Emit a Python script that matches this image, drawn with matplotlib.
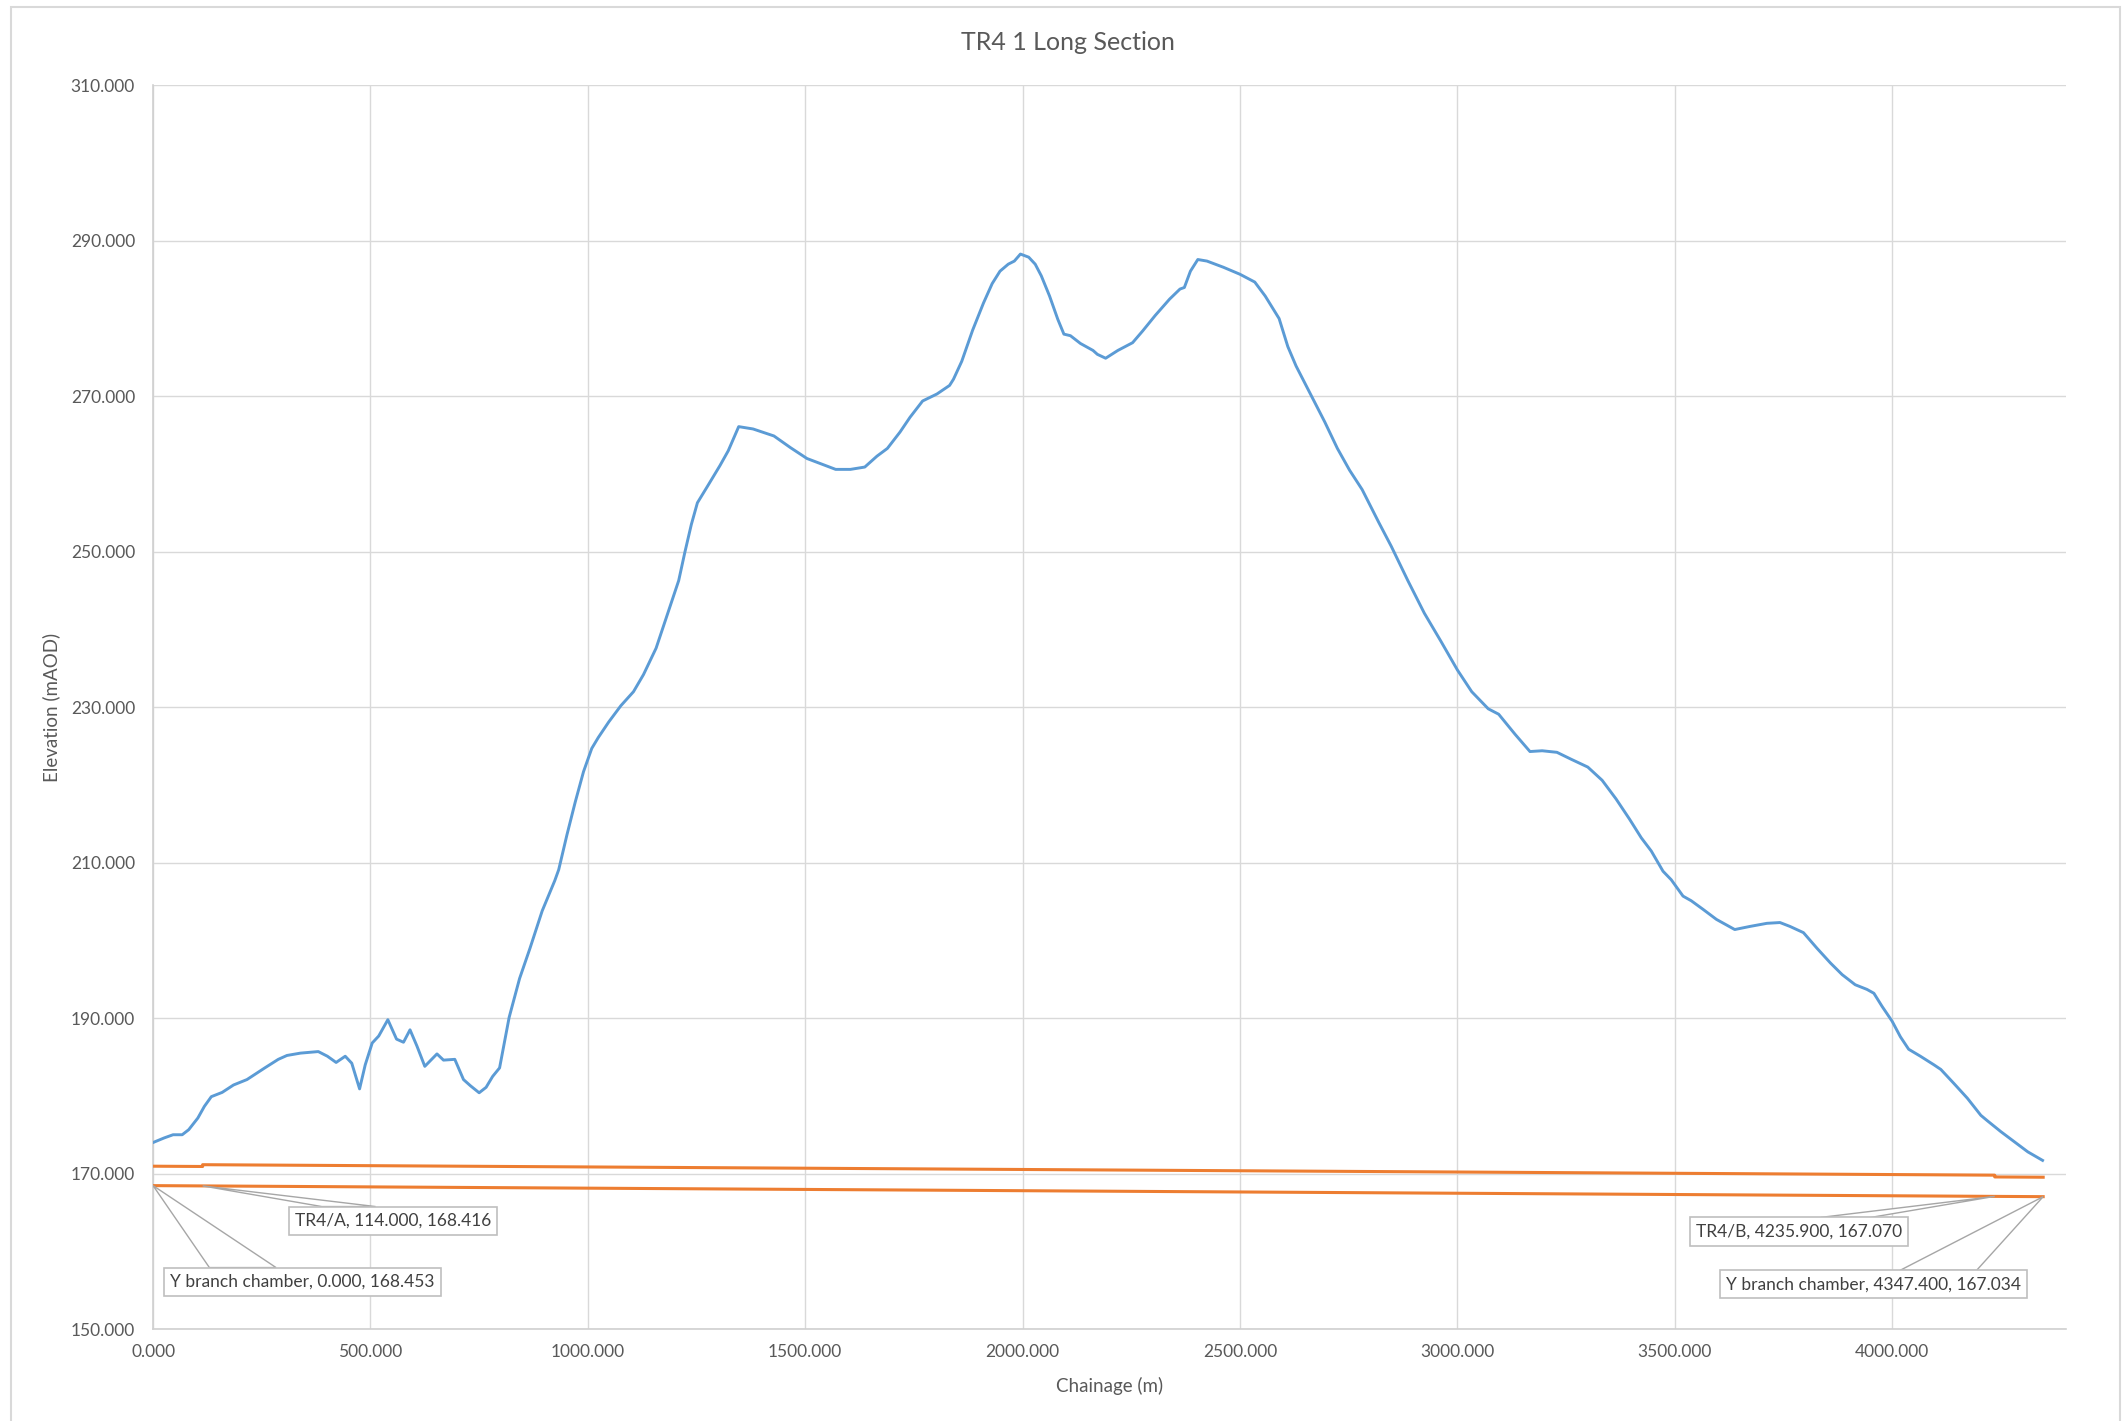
import numpy as np
import matplotlib
matplotlib.use('Agg')
import matplotlib.pyplot as plt
from matplotlib.patches import Rectangle, Polygon

plt.rcParams['font.family'] = ['Lato', 'DejaVu Sans']

# ground profile (chainage m, elevation mAOD)
ground_x = [0, 26, 46, 67, 82, 103, 118, 134, 159, 185, 216, 257, 288, 308, 339, 380,
            401, 421, 442, 457, 475, 488, 504, 519, 540, 560, 576, 591, 607, 625, 653,
            668, 694, 714, 730, 750, 766, 781, 797, 819, 843, 867, 895, 924, 933, 952,
            971, 990, 1009, 1024, 1048, 1076, 1105, 1128, 1157, 1185, 1209, 1223, 1238,
            1252, 1276, 1304, 1323, 1347, 1380, 1428, 1466, 1504, 1542, 1570, 1604, 1637,
            1665, 1689, 1718, 1741, 1770, 1803, 1832, 1841, 1860, 1885, 1910, 1930, 1948,
            1967, 1981, 1995, 2014, 2029, 2043, 2062, 2081, 2095, 2110, 2133, 2162, 2172,
            2191, 2219, 2253, 2276, 2305, 2338, 2362, 2372, 2386, 2403, 2424, 2462, 2500,
            2534, 2558, 2590, 2610, 2629, 2662, 2695, 2724, 2752, 2781, 2819, 2848, 2886,
            2924, 2962, 3000, 3033, 3071, 3095, 3133, 3167, 3195, 3229, 3262, 3300, 3333,
            3365, 3396, 3423, 3446, 3473, 3492, 3519, 3538, 3565, 3596, 3638, 3673, 3712,
            3742, 3765, 3796, 3827, 3858, 3885, 3915, 3942, 3958, 3977, 4000, 4019, 4038,
            4065, 4096, 4112, 4142, 4173, 4204, 4219, 4250, 4281, 4312, 4346]
ground_y = [174.0, 174.6, 175.0, 175.0, 175.65, 177.15, 178.65, 179.9, 180.45, 181.4, 182.1,
            183.6, 184.7, 185.2, 185.5, 185.7, 185.1, 184.3, 185.1, 184.2, 180.9, 184.0,
            186.8, 187.7, 189.8, 187.3, 186.9, 188.5, 186.4, 183.8, 185.4, 184.6, 184.7,
            182.1, 181.3, 180.4, 181.1, 182.5, 183.6, 190.1, 195.1, 199.0, 203.8, 207.7,
            209.1, 213.6, 217.8, 221.7, 224.7, 226.1, 228.1, 230.2, 232.0, 234.2, 237.6,
            242.3, 246.3, 249.9, 253.5, 256.3, 258.5, 261.1, 263.0, 266.1, 265.8, 264.9,
            263.4, 262.0, 261.2, 260.6, 260.6, 260.9, 262.3, 263.3, 265.4, 267.3, 269.4,
            270.3, 271.4, 272.2, 274.5, 278.5, 282.0, 284.5, 286.1, 287.0, 287.4, 288.3,
            287.9, 287.0, 285.5, 282.9, 279.9, 278.0, 277.8, 276.8, 275.9, 275.4, 274.9,
            275.9, 276.9, 278.4, 280.4, 282.5, 283.8, 284.0, 286.1, 287.6, 287.4, 286.6,
            285.7, 284.7, 282.9, 280.0, 276.4, 273.9, 270.3, 266.7, 263.3, 260.5, 258.0,
            253.8, 250.7, 246.3, 242.1, 238.5, 234.8, 232.0, 229.8, 229.1, 226.5, 224.3,
            224.4, 224.2, 223.3, 222.3, 220.6, 218.2, 215.6, 213.2, 211.5, 208.9, 207.8,
            205.7, 205.1, 204.0, 202.7, 201.4, 201.8, 202.2, 202.3, 201.8, 201.0, 199.0,
            197.1, 195.6, 194.3, 193.7, 193.2, 191.5, 189.6, 187.6, 186.0, 185.1, 184.0,
            183.4, 181.6, 179.7, 177.5, 176.8, 175.4, 174.1, 172.8, 171.7]

# tunnel crown and invert
crown_x = [0, 114, 114, 4235.9, 4235.9, 4347.4]
crown_y = [170.953, 170.916, 171.146, 169.800, 169.570, 169.534]
invert_x = [0, 114, 4235.9, 4347.4]
invert_y = [168.453, 168.416, 167.070, 167.034]

point_names = ['Y branch chamber', 'TR4/A', 'TR4/B', 'Y branch chamber']
label_x = [344, 552, 3785, 3957]
label_y = [156.1, 163.95, 162.55, 155.75]
# where the callout wedge meets the top of the label box (fraction of box width)
wedge_a = [0.163, 0.158, 0.60, 0.587]
wedge_b = [0.404, 0.416, 0.83, 0.836]

blue = '#5B9BD5'
orange = '#ED7D31'
grey_txt = '#595959'

fig = plt.figure(figsize=(21.26, 14.21), dpi=100)
ax = fig.add_axes([0.0720, 0.0647, 0.8998, 0.8752])

ax.plot(ground_x, ground_y, color=blue, lw=2.1, zorder=3)
ax.plot(crown_x, crown_y, color=orange, lw=2.2, zorder=3)
ax.plot(invert_x, invert_y, color=orange, lw=2.2, zorder=3)

ax.set_xlim(0, 4400)
ax.set_ylim(150, 310)
ax.set_xticks(np.arange(0, 4001, 500))
ax.set_yticks(np.arange(150, 311, 20))
ax.xaxis.set_major_formatter(matplotlib.ticker.FormatStrFormatter('%.3f'))
ax.yaxis.set_major_formatter(matplotlib.ticker.FormatStrFormatter('%.3f'))
ax.tick_params(length=0, labelsize=12.5, labelcolor=grey_txt)
ax.tick_params(axis='y', pad=13)
ax.tick_params(axis='x', pad=11)
ax.grid(True, color='#D9D9D9', lw=1.0)
ax.set_axisbelow(True)
for s in ['top', 'right']:
    ax.spines[s].set_visible(False)
for s in ['left', 'bottom']:
    ax.spines[s].set_color('#D0D0D0')
    ax.spines[s].set_linewidth(1.2)

labels = []
for i in range(len(point_names)):
    txt = '%s, %.3f, %.3f' % (point_names[i], invert_x[i], invert_y[i])
    t = ax.text(label_x[i], label_y[i], txt, ha='center', va='center', fontsize=12.5,
                color='#404040', zorder=6,
                bbox=dict(boxstyle='square,pad=0.35', fc='white', ec='#BFBFBF', lw=1.2))
    labels.append(t)

# callout wedges: from the data point to the top edge of each label box
fig.canvas.draw()
renderer = fig.canvas.get_renderer()
inv = ax.transData.inverted()
for i, t in enumerate(labels):
    bb = t.get_bbox_patch().get_window_extent(renderer)
    pa = inv.transform((bb.x0 + wedge_a[i] * bb.width, bb.y1))
    pb = inv.transform((bb.x0 + wedge_b[i] * bb.width, bb.y1))
    tri = Polygon([(invert_x[i], invert_y[i]), tuple(pa), tuple(pb)], closed=True,
                  fc='white', ec='#A6A6A6', lw=1.0, zorder=5)
    ax.add_patch(tri)

fig.text(0.5025, 0.9704, 'TR4 1 Long Section', ha='center', va='center', fontsize=18, color=grey_txt)
fig.text(0.5217, 0.0246, 'Chainage (m)', ha='center', va='center', fontsize=13.5, color=grey_txt)
fig.text(0.0243, 0.502, 'Elevation (mAOD)', ha='center', va='center', rotation=90,
         fontsize=13.5, color=grey_txt)

# chart border
fig.patches.append(Rectangle((11 / 2126, -0.02), (2120 - 11) / 2126, 1.02 - 7 / 1421,
                             transform=fig.transFigure, fill=False, ec='#D9D9D9', lw=1.5))

fig.savefig('out.png', dpi=100)
